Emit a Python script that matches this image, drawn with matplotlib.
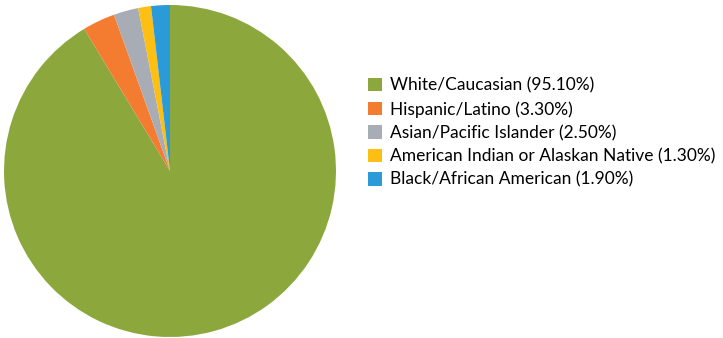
import matplotlib.pyplot as plt

# ethnicity breakdown (values as shown in legend)
labels = ['White/Caucasian', 'Hispanic/Latino', 'Asian/Pacific Islander',
          'American Indian or Alaskan Native', 'Black/African American']
values = [95.10, 3.30, 2.50, 1.30, 1.90]
colors = ['#8ca83c', '#f47c30', '#a8adb5', '#fdbf13', '#2a9bd8']

plt.rcParams['font.family'] = ['Lato', 'DejaVu Sans']

W, H = 723, 338
fig = plt.figure(figsize=(W / 100, H / 100), dpi=100)
fig.patch.set_facecolor('white')

cx, cy, r = 170, 167, 166
ax = fig.add_axes([(cx - r) / W, (cy - r) / H, 2 * r / W, 2 * r / H])
wedges, _ = ax.pie(values, colors=colors, startangle=90, counterclock=False,
                   radius=1, wedgeprops=dict(linewidth=0))
ax.set_xlim(-1, 1)
ax.set_ylim(-1, 1)
ax.set_aspect('equal')
ax.axis('off')

leg_labels = [f'{l} ({v:.2f}%)' for l, v in zip(labels, values)]
fig.legend(wedges, leg_labels, loc='upper left',
           bbox_to_anchor=(359 / W, 1 - 69 / H), frameon=False,
           fontsize=12.5, handlelength=0.8, handleheight=0.8,
           handletextpad=0.5, labelspacing=0.42, borderpad=0)

fig.savefig('out.png', dpi=100)
